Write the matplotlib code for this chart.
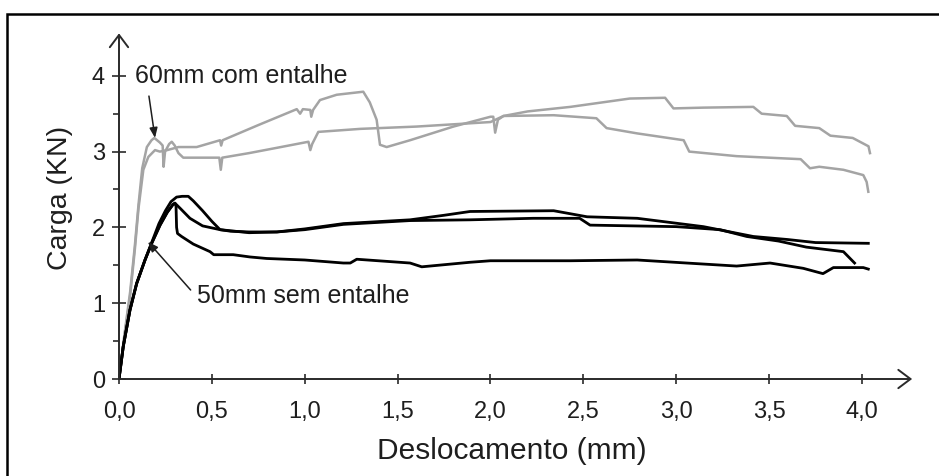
import matplotlib
matplotlib.use("Agg")
import matplotlib.pyplot as plt
from matplotlib.patches import Rectangle

# --- data ----------------------------------------------------------------
x_ticks = [0.0, 0.5, 1.0, 1.5, 2.0, 2.5, 3.0, 3.5, 4.0]
x_tick_labels = ["0,0", "0,5", "1,0", "1,5", "2,0", "2,5", "3,0", "3,5", "4,0"]
y_ticks = [0, 1, 2, 3, 4]
y_tick_labels = ["0", "1", "2", "3", "4"]
y_minor_ticks = [0.5, 1.5, 2.5, 3.5]

# 60mm com entalhe (grey)
g1_x = [0, 0.03, 0.06, 0.085, 0.105, 0.125, 0.15, 0.175, 0.19, 0.22, 0.235,
        0.24, 0.248, 0.27, 0.284, 0.30, 0.32, 0.346, 0.40, 0.50, 0.54, 0.548,
        0.556, 0.70, 0.85, 1.02, 1.03, 1.04, 1.073, 1.3, 1.6, 1.8, 2.0, 2.07,
        2.2, 2.43, 2.75, 2.94, 2.985, 3.146, 3.415, 3.46, 3.595, 3.64, 3.77,
        3.83, 3.95, 4.035, 4.043]
g1_y = [0, 0.6, 1.15, 1.75, 2.3, 2.78, 3.06, 3.15, 3.18, 3.12, 3.08,
        2.80, 3.0, 3.1, 3.13, 3.08, 2.98, 2.92, 2.92, 2.92, 2.92, 2.76,
        2.92, 2.98, 3.05, 3.13, 3.02, 3.10, 3.26, 3.30, 3.33, 3.36, 3.39, 3.47,
        3.53, 3.59, 3.70, 3.71, 3.57, 3.58, 3.59, 3.50, 3.47, 3.34, 3.31,
        3.21, 3.18, 3.07, 2.98]
g2_x = [0, 0.03, 0.06, 0.085, 0.105, 0.131, 0.158, 0.194, 0.22, 0.26, 0.32,
        0.418, 0.544, 0.55, 0.558, 0.75, 0.957, 0.975, 0.99, 1.03, 1.035,
        1.045, 1.082, 1.172, 1.315, 1.35, 1.387, 1.405, 1.441, 1.567, 1.8,
        2.0, 2.015, 2.025, 2.04, 2.07, 2.34, 2.57, 2.625, 2.79, 3.04, 3.07,
        3.325, 3.67, 3.72, 3.77, 3.9, 4.007, 4.025, 4.034]
g2_y = [0, 0.58, 1.1, 1.7, 2.25, 2.76, 2.93, 3.02, 3.0, 3.02, 3.06,
        3.06, 3.15, 3.08, 3.15, 3.35, 3.56, 3.50, 3.56, 3.55, 3.46,
        3.55, 3.68, 3.75, 3.79, 3.65, 3.42, 3.09, 3.06, 3.15, 3.33,
        3.46, 3.46, 3.25, 3.42, 3.47, 3.48, 3.44, 3.31, 3.24, 3.15, 3.0,
        2.94, 2.90, 2.78, 2.80, 2.76, 2.69, 2.60, 2.47]

# 50mm sem entalhe (black)
b1_x = [0, 0.023, 0.059, 0.095, 0.14, 0.176, 0.215, 0.25, 0.28, 0.31, 0.34,
        0.373, 0.40, 0.45, 0.50, 0.544, 0.6, 0.7, 0.85, 1.0, 1.208, 1.567,
        1.75, 1.89, 2.34, 2.52, 2.79, 3.146, 3.415, 3.6, 3.75, 4.034]
b1_y = [0, 0.43, 0.91, 1.26, 1.57, 1.80, 2.05, 2.22, 2.34, 2.40, 2.41,
        2.41, 2.35, 2.22, 2.08, 1.97, 1.95, 1.94, 1.94, 1.98, 2.05, 2.10,
        2.16, 2.21, 2.22, 2.14, 2.12, 2.01, 1.88, 1.84, 1.80, 1.79]
b2_x = [0, 0.023, 0.059, 0.095, 0.14, 0.176, 0.221, 0.26, 0.29, 0.301, 0.33,
        0.382, 0.45, 0.544, 0.7, 0.85, 1.0, 1.208, 1.567, 1.89, 2.23, 2.48,
        2.536, 3.0, 3.236, 3.38, 3.55, 3.7, 3.9, 3.96]
b2_y = [0, 0.43, 0.91, 1.26, 1.57, 1.79, 2.03, 2.20, 2.30, 2.32, 2.25,
        2.12, 2.02, 1.97, 1.93, 1.94, 1.97, 2.04, 2.09, 2.10, 2.12, 2.12,
        2.03, 2.01, 1.97, 1.88, 1.82, 1.74, 1.68, 1.53]
b3_x = [0, 0.023, 0.059, 0.095, 0.14, 0.176, 0.221, 0.26, 0.29, 0.301, 0.307,
        0.31, 0.315, 0.337, 0.40, 0.49, 0.51, 0.615, 0.705, 0.795, 1.0, 1.208,
        1.245, 1.28, 1.567, 1.63, 1.89, 2.0, 2.43, 2.79, 3.056, 3.325, 3.505,
        3.684, 3.79, 3.846, 4.007, 4.034]
b3_y = [0, 0.43, 0.91, 1.26, 1.57, 1.79, 2.03, 2.20, 2.30, 2.32, 2.28,
        2.0, 1.92, 1.88, 1.78, 1.68, 1.64, 1.64, 1.61, 1.59, 1.57, 1.53,
        1.53, 1.58, 1.53, 1.48, 1.54, 1.56, 1.56, 1.57, 1.53, 1.49, 1.53,
        1.46, 1.39, 1.47, 1.47, 1.45]

# --- figure ----------------------------------------------------------------
W, H = 939, 476
fig = plt.figure(figsize=(W / 100, H / 100), dpi=100)
plt.rcParams['font.family'] = ['Liberation Sans', 'DejaVu Sans']

# frame round the whole picture (only top and left edges show)
fig.add_artist(Rectangle((7 / W, -0.1), 1.2, 1.1 - 14 / H, transform=fig.transFigure,
                         fill=False, lw=1.8, ec='black'))

xmax, ymax = 4.27, 4.56
ax = fig.add_axes([119 / W, (H - 379) / H, xmax * 185.75 / W, ymax * 75.8 / H])
ax.set_xlim(0, xmax)
ax.set_ylim(0, ymax)
for s in ax.spines.values():
    s.set_visible(False)
ax.patch.set_visible(False)

grey = '#a4a4a4'
ax.plot(g1_x, g1_y, color=grey, lw=1.8, solid_joinstyle='round')
ax.plot(g2_x, g2_y, color=grey, lw=1.8, solid_joinstyle='round')
for bx, by in [(b1_x, b1_y), (b2_x, b2_y), (b3_x, b3_y)]:
    ax.plot(bx, by, color='black', lw=2.0, solid_joinstyle='round')

axcol = '#2a2a2a'
txtcol = '#1e1e1e'
arrow = dict(arrowstyle='->,head_length=0.4,head_width=0.3', lw=1.4,
             color=axcol, mutation_scale=22, shrinkA=0, shrinkB=0)
ax.annotate('', xy=(0, ymax), xytext=(0, 0), arrowprops=arrow,
            annotation_clip=False)
ax.annotate('', xy=(xmax, 0), xytext=(0, 0), arrowprops=arrow,
            annotation_clip=False)

ax.set_xticks(x_ticks)
ax.set_xticklabels(x_tick_labels)
ax.set_yticks(y_ticks)
ax.set_yticklabels(y_tick_labels)
ax.set_yticks(y_minor_ticks, minor=True)
ax.tick_params(axis='x', direction='inout', length=7, width=1.2, color=axcol,
               pad=12, labelsize=17, labelcolor=txtcol)
ax.tick_params(axis='y', which='major', direction='inout', length=10, width=1.2,
               color=axcol, pad=5, labelsize=17, labelcolor=txtcol)
ax.tick_params(axis='y', which='minor', direction='out', length=4, width=1.2,
               color=axcol)

ax.set_xlabel('Deslocamento (mm)', fontsize=21.5, color=txtcol)
ax.xaxis.set_label_coords(0.4956, -0.168)
ax.set_ylabel('Carga (KN)', fontsize=20.5, color=txtcol)
ax.yaxis.set_label_coords(-0.058, 0.525)

ax.annotate('60mm com entalhe', xy=(0.194, 3.18), xytext=(0.086, 4.0),
            fontsize=18, color=txtcol, va='center', ha='left',
            arrowprops=dict(arrowstyle='-|>,head_length=0.5,head_width=0.2',
                            lw=1.1, color=txtcol, mutation_scale=12,
                            shrinkA=4, shrinkB=0, relpos=(0.06, 0)))
ax.annotate('50mm sem entalhe', xy=(0.156, 1.81), xytext=(0.42, 1.095),
            fontsize=18, color=txtcol, va='center', ha='left',
            arrowprops=dict(arrowstyle='-|>,head_length=0.5,head_width=0.2',
                            lw=1.1, color=txtcol, mutation_scale=12,
                            shrinkA=0, shrinkB=0, relpos=(-0.03, 0.75)))

fig.savefig('out.png', dpi=100)
